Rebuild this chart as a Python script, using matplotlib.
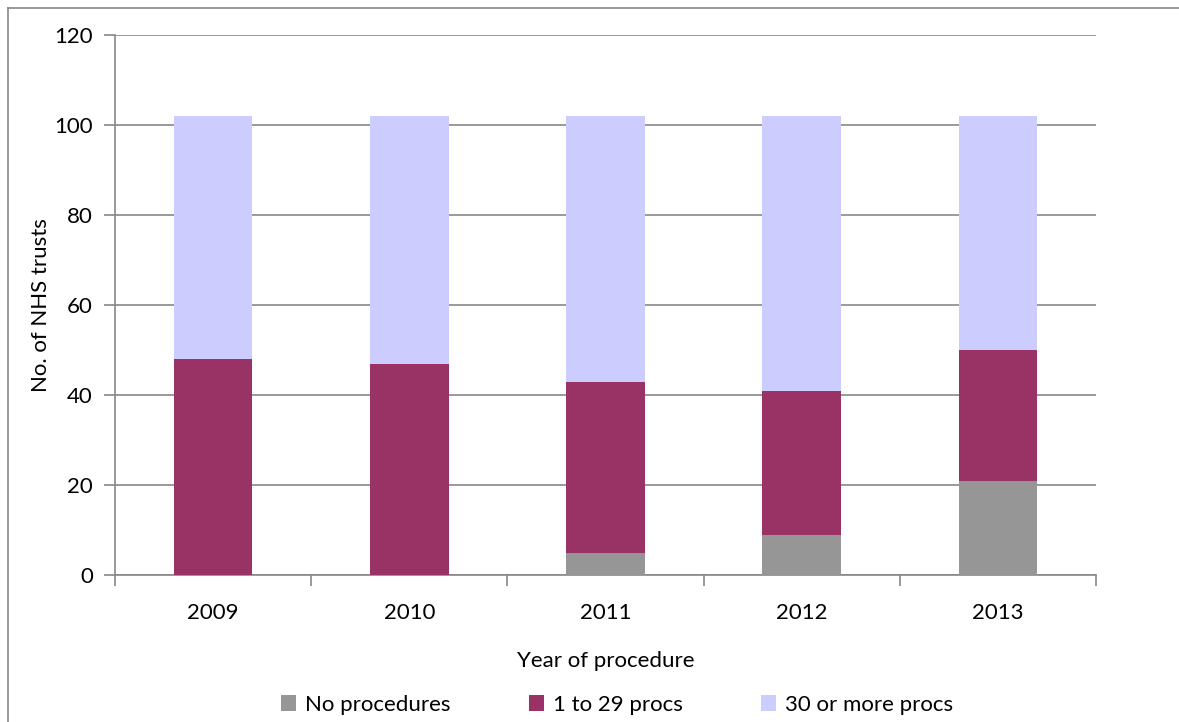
import matplotlib
matplotlib.use("Agg")
import matplotlib.pyplot as plt
from matplotlib.patches import Patch
from matplotlib.lines import Line2D

plt.rcParams['font.family'] = ['Lato', 'DejaVu Sans']

years = ['2009', '2010', '2011', '2012', '2013']
no_procs = [0, 0, 5, 9, 21]
procs_1_29 = [48, 47, 38, 32, 29]
procs_30_plus = [54, 55, 59, 61, 52]
series_labels = ['No procedures', '1 to 29 procs', '30 or more procs']
colors = ['#969696', '#993366', '#CCCCFF']
y_ticks = [0, 20, 40, 60, 80, 100, 120]

FS = 16

fig = plt.figure(figsize=(11.79, 7.22), dpi=100)
ax = fig.add_axes([115/1179, 1 - 575/722, (1096-115)/1179, (575-35)/722])

x = list(range(len(years)))
bottom2 = [a + b for a, b in zip(no_procs, procs_1_29)]
ax.bar(x, no_procs, width=0.4, color=colors[0], zorder=3)
ax.bar(x, procs_1_29, width=0.4, bottom=no_procs, color=colors[1], zorder=3)
ax.bar(x, procs_30_plus, width=0.4, bottom=bottom2, color=colors[2], zorder=3)

ax.set_xlim(-0.5, len(years) - 0.5)
ax.set_ylim(0, 120)
ax.set_yticks(y_ticks)
ax.set_yticklabels([str(t) for t in y_ticks], fontsize=FS)
ax.yaxis.grid(True, color='#888888', linewidth=1.2, zorder=0)
ax.set_axisbelow(True)

ax.set_xticks(x)
ax.set_xticklabels(years, fontsize=FS)
ax.tick_params(axis='x', length=0, pad=20)
ax.tick_params(axis='y', length=8, width=1.2, color='#888888', pad=8, direction='out')
ax.set_xticks([i + 0.5 for i in range(-1, len(years))], minor=True)
ax.tick_params(axis='x', which='minor', length=8, width=1.2, color='#888888', direction='out')

for s in ['top', 'right']:
    ax.spines[s].set_visible(False)
ax.spines['left'].set_color('#888888')
ax.spines['left'].set_linewidth(1.2)
ax.spines['bottom'].set_color('#888888')
ax.spines['bottom'].set_linewidth(1.2)

ax.set_ylabel('No. of NHS trusts', fontsize=FS, labelpad=2)
ax.set_xlabel('Year of procedure', fontsize=FS, labelpad=20)

handles = [Patch(facecolor=c, edgecolor='none') for c in colors]
fig.legend(handles, series_labels, loc='center', bbox_to_anchor=(617/1179, 1 - 705/722),
           ncol=3, frameon=False, fontsize=FS, handlelength=0.7, handleheight=0.7,
           handletextpad=0.4, columnspacing=3.5)

fig.add_artist(Line2D([8/1179, 1], [1 - 8/722, 1 - 8/722], color='#888888', linewidth=1.2, transform=fig.transFigure))
fig.add_artist(Line2D([8/1179, 8/1179], [0, 1 - 8/722], color='#888888', linewidth=1.2, transform=fig.transFigure))

fig.savefig('out.png', dpi=100)
